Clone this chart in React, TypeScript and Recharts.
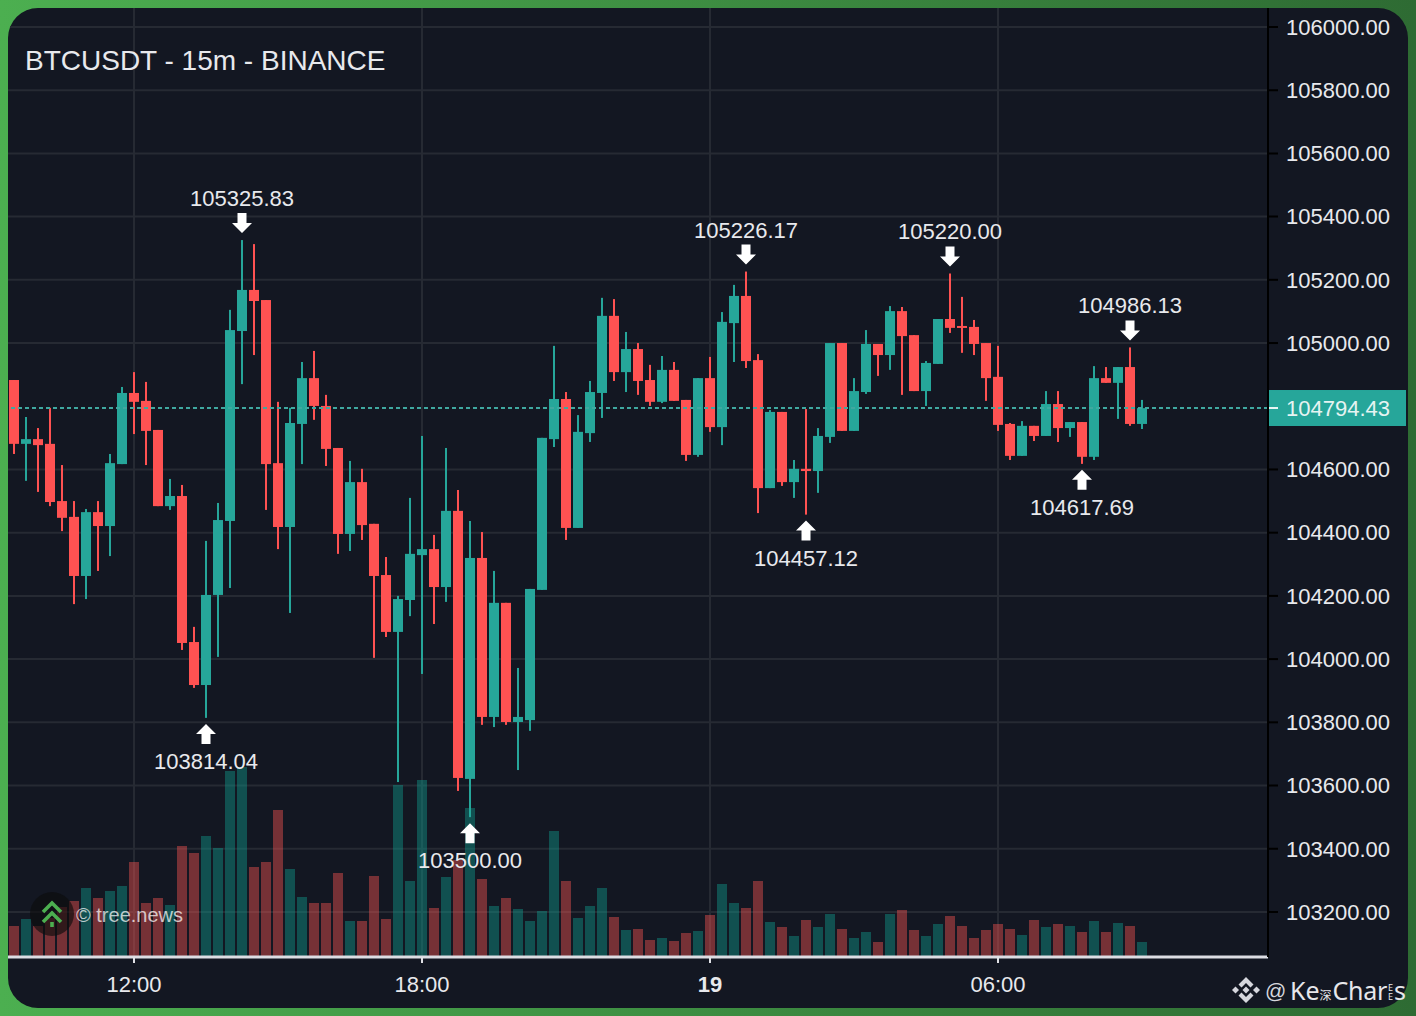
import { Bar, CartesianGrid, ComposedChart, ReferenceDot, ReferenceLine, XAxis, YAxis } from "recharts";

const opens = [104883, 104681, 104696, 104681, 104500, 104450, 104263, 104465, 104421, 104617, 104842, 104817, 104725, 104484, 104516, 104054, 103918, 104203, 104437, 105038, 105168, 105136, 104620, 104418, 104744, 104889, 104801, 104668, 104396, 104560, 104428, 104266, 104086, 104187, 104329, 104348, 104228, 104469, 103621, 104320, 103817, 104178, 103801, 103807, 104219, 104696, 104823, 104415, 104715, 104842, 105086, 104908, 104981, 104883, 104814, 104915, 104820, 104646, 104889, 104734, 105063, 105149, 104946, 104541, 104782, 104560, 104602, 104595, 104703, 105000, 104722, 104845, 104997, 104962, 105101, 105025, 104848, 104934, 105076, 105054, 105051, 105000, 104893, 104744, 104643, 104738, 104706, 104807, 104731, 104750, 104640, 104889, 104874, 104924, 104744];
const closes = [104681, 104696, 104677, 104497, 104447, 104263, 104465, 104421, 104620, 104842, 104814, 104722, 104484, 104516, 104051, 103918, 104203, 104440, 105041, 105168, 105133, 104617, 104418, 104747, 104889, 104801, 104665, 104396, 104560, 104424, 104263, 104086, 104190, 104333, 104348, 104228, 104469, 103624, 104320, 103817, 104178, 103801, 103817, 104222, 104700, 104823, 104415, 104719, 104845, 105086, 104908, 104981, 104880, 104814, 104915, 104817, 104646, 104889, 104734, 105067, 105149, 104943, 104541, 104782, 104560, 104602, 104595, 104706, 105000, 104722, 104848, 104997, 104962, 105101, 105022, 104848, 104937, 105076, 105048, 105048, 104997, 104889, 104741, 104643, 104738, 104706, 104807, 104731, 104750, 104640, 104889, 104874, 104924, 104744, 104794];
const highs = [104883, 104766, 104731, 104795, 104614, 104500, 104475, 104500, 104649, 104861, 104908, 104877, 104725, 104570, 104551, 104102, 104374, 104494, 105105, 105325.83, 105313, 105136, 104814, 104795, 104940, 104975, 104836, 104668, 104627, 104602, 104428, 104323, 104200, 104510, 104706, 104393, 104668, 104535, 104437, 104402, 104279, 104178, 103972, 104222, 104700, 104991, 104845, 104772, 104880, 105143, 105139, 105035, 105000, 104931, 104959, 104940, 104820, 104889, 104956, 105098, 105184, 105226.17, 104965, 104788, 104782, 104630, 104791, 104731, 105000, 105000, 104889, 105041, 104997, 105117, 105114, 105025, 104943, 105076, 105220, 105146, 105073, 105000, 104991, 104747, 104753, 104738, 104848, 104848, 104750, 104750, 104927, 104924, 104924, 104986.13, 104820];
const lows = [104649, 104564, 104529, 104484, 104405, 104174, 104190, 104279, 104326, 104617, 104712, 104614, 104484, 104472, 104029, 103909, 103814.04, 104007, 104225, 104870, 104962, 104472, 104348, 104146, 104617, 104757, 104611, 104333, 104342, 104377, 104004, 104070, 103611, 104136, 103953, 104111, 104181, 103583, 103500, 103792, 103785, 103792, 103649, 103773, 104219, 104671, 104377, 104415, 104687, 104763, 104880, 104845, 104836, 104801, 104810, 104817, 104627, 104640, 104719, 104677, 104940, 104921, 104462, 104541, 104548, 104510, 104457.12, 104526, 104684, 104722, 104722, 104839, 104896, 104915, 104836, 104848, 104801, 104934, 105032, 104969, 104962, 104817, 104722, 104630, 104643, 104690, 104706, 104687, 104703, 104617.69, 104630, 104874, 104760, 104738, 104728];
const volumes = [31, 38, 31, 39, 50, 56, 69, 59, 66, 71, 95, 54, 59, 52, 111, 104, 121, 109, 186, 190, 90, 95, 147, 88, 60, 54, 54, 84, 36, 36, 81, 38, 172, 76, 177, 49, 80, 97, 149, 78, 51, 59, 48, 36, 46, 126, 76, 39, 51, 69, 40, 27, 28, 17, 19, 16, 24, 26, 42, 73, 54, 49, 76, 35, 30, 21, 37, 30, 43, 28, 19, 25, 15, 43, 47, 27, 21, 33, 41, 31, 19, 27, 33, 28, 22, 37, 30, 33, 31, 25, 36, 25, 34, 31, 15];

// 09:30 on the 18th, 15m candles
const times = [
  "09:30", "09:45",
  ...Array.from({ length: 14 }, (_, h) => [0, 15, 30, 45].map((m) => `${String(h + 10).padStart(2, "0")}:${String(m).padStart(2, "0")}`)).flat(),
  "19", "00:15", "00:30", "00:45",
  ...Array.from({ length: 9 }, (_, h) => [0, 15, 30, 45].map((m) => `${String(h + 1).padStart(2, "0")}:${String(m).padStart(2, "0")}`)).flat(),
];
// the empty room right of the last candle
const emptySlots = ["e1", "e2", "e3", "e4", "e5", "e6", "e7", "e8", "e9", "e10"];

const timeTicks = ["12:00", "18:00", "19", "06:00"];
const priceTicks = [103200, 103400, 103600, 103800, 104000, 104200, 104400, 104600, 105000, 105200, 105400, 105600, 105800, 106000];
const lastPrice = 104794.43;

const highMarkers = [
  { time: "14:15", price: 105325.83 },
  { time: "00:45", price: 105226.17 },
  { time: "05:00", price: 105220.0 },
  { time: "08:45", price: 104986.13 },
];
const lowMarkers = [
  { time: "13:30", price: 103814.04 },
  { time: "19:00", price: 103500.0 },
  { time: "02:00", price: 104457.12 },
  { time: "07:45", price: 104617.69 },
];

const UP = "#26a69a";
const DOWN = "#ff5252";
const FONT = "'Liberation Sans', Arial, sans-serif";
const TEXT = "#e8e9ed";

const rows = [
  ...opens.map((open, i) => ({ time: times[i], open, close: closes[i], high: highs[i], low: lows[i], volume: volumes[i] })),
  ...emptySlots.map((time) => ({ time })),
];

function Candle(props: any) {
  const { x, y, width, height, payload } = props;
  if (payload.open == null || !height) return null;
  const perUnit = height / (payload.high - payload.low);
  const top = y + (payload.high - Math.max(payload.open, payload.close)) * perUnit;
  const bottom = y + (payload.high - Math.min(payload.open, payload.close)) * perUnit;
  const color = payload.close >= payload.open ? UP : DOWN;
  return (
    <g>
      <rect x={x + width / 2 - 1} y={y} width={2} height={height} fill={color} />
      <rect x={x} y={top} width={width} height={Math.max(bottom - top, 2)} fill={color} />
    </g>
  );
}

function VolumeBar(props: any) {
  const { x, y, width, height, payload } = props;
  if (payload.open == null) return null;
  const color = payload.close >= payload.open ? "rgba(16,150,138,0.45)" : "rgba(239,83,80,0.45)";
  return <rect x={x} y={y} width={width} height={height} fill={color} />;
}

function HighMarker(props: any) {
  const { cx, cy, text } = props;
  const t = cy - 7;
  return (
    <g>
      <path d={`M${cx} ${t} l-10 -10 h5.5 v-10 h9 v10 h5.5 z`} fill="#fff" />
      <text x={cx} y={cy - 34} textAnchor="middle" fontSize={22} fontFamily={FONT} fill={TEXT}>{text}</text>
    </g>
  );
}

function LowMarker(props: any) {
  const { cx, cy, text } = props;
  const t = cy + 6;
  return (
    <g>
      <path d={`M${cx} ${t} l10 10 h-5.5 v10 h-9 v-10 h-5.5 z`} fill="#fff" />
      <text x={cx} y={cy + 51} textAnchor="middle" fontSize={22} fontFamily={FONT} fill={TEXT}>{text}</text>
    </g>
  );
}

function TimeTick(props: any) {
  const { x, y, payload } = props;
  return (
    <text x={x} y={y} dy={27} textAnchor="middle" fontSize={22} fontFamily={FONT} fill={TEXT} fontWeight={payload.value === "19" ? 700 : 400}>
      {payload.value}
    </text>
  );
}

function PriceTag(props: any) {
  const { viewBox } = props;
  const right = viewBox.x + viewBox.width;
  const mid = viewBox.y;
  return (
    <g>
      <rect x={right} y={mid - 18} width={138} height={36} fill={UP} />
      <rect x={right} y={mid - 1} width={10} height={2} fill="#e8f5f3" />
      <text x={right + 18} y={mid + 8} fontSize={22} fontFamily={FONT} fill="#e6f4f2">{lastPrice.toFixed(2)}</text>
    </g>
  );
}

export default function App() {
  return (
    <div
      style={{
        position: "absolute",
        left: 0,
        top: 0,
        width: 1416,
        height: 1016,
        overflow: "hidden",
        background: "linear-gradient(90deg, #4caf50 0%, #2e6b33 100%)",
      }}
    >
      <div style={{ position: "absolute", left: 8, top: 8, width: 1400, height: 1000, borderRadius: 30, background: "#131722", overflow: "hidden" }}>
        <div style={{ position: "absolute", left: -8, top: -8 }}>
          <ComposedChart width={1416} height={1016} data={rows} margin={{ top: 8, right: 0, bottom: 0, left: 8 }}>
            <CartesianGrid xAxisId="time" yAxisId="price" stroke="#262a33" strokeWidth={2} syncWithTicks />
            <XAxis
              xAxisId="time"
              dataKey="time"
              allowDuplicatedCategory={false}
              ticks={timeTicks}
              interval={0}
              height={59}
              tick={TimeTick}
              tickSize={6}
              tickLine={{ stroke: "#e0e1e6", strokeWidth: 2 }}
              axisLine={{ stroke: "#dcdde3", strokeWidth: 3 }}
            />
            <XAxis xAxisId="volume" dataKey="time" allowDuplicatedCategory={false} hide />
            <YAxis
              yAxisId="price"
              orientation="right"
              width={148}
              type="number"
              domain={[103057.5, 106060]}
              ticks={priceTicks}
              interval={0}
              allowDataOverflow
              tickFormatter={(v: number) => v.toFixed(2)}
              tickSize={10}
              tickMargin={8}
              tick={{ fontSize: 22, fontFamily: FONT, fill: TEXT }}
              tickLine={{ stroke: "#000", strokeWidth: 2 }}
              axisLine={{ stroke: "#000", strokeWidth: 2 }}
            />
            <YAxis yAxisId="volume" hide type="number" domain={[0, 949]} />
            <Bar xAxisId="volume" yAxisId="volume" dataKey="volume" barSize={10} shape={VolumeBar} isAnimationActive={false} />
            <Bar
              xAxisId="time"
              yAxisId="price"
              dataKey={(d: any) => (d.open == null ? null : [d.low, d.high])}
              barSize={10}
              shape={Candle}
              isAnimationActive={false}
            />
            <ReferenceLine
              xAxisId="time"
              yAxisId="price"
              y={lastPrice}
              stroke="#3fa8a0"
              strokeWidth={2}
              strokeDasharray="4 3"
              label={PriceTag}
            />
            {highMarkers.map((m) => (
              <ReferenceDot
                key={m.time}
                xAxisId="time"
                yAxisId="price"
                x={m.time}
                y={m.price}
                ifOverflow="visible"
                shape={(p: any) => <HighMarker {...p} text={m.price.toFixed(2)} />}
              />
            ))}
            {lowMarkers.map((m) => (
              <ReferenceDot
                key={m.time}
                xAxisId="time"
                yAxisId="price"
                x={m.time}
                y={m.price}
                ifOverflow="visible"
                shape={(p: any) => <LowMarker {...p} text={m.price.toFixed(2)} />}
              />
            ))}
          </ComposedChart>
        </div>
      </div>
      <div style={{ position: "absolute", left: 25, top: 45, fontSize: 28, lineHeight: "32px", fontFamily: FONT, color: TEXT, whiteSpace: "nowrap" }}>
        BTCUSDT - 15m - BINANCE
      </div>
      <svg width={46} height={46} style={{ position: "absolute", left: 29, top: 891 }}>
        <circle cx={23} cy={23} r={22} fill="rgba(12,12,14,0.65)" />
        <path d="M14 21 L23 12 L32 21 M14 31 L23 22 L32 31" fill="none" stroke="#4caf50" strokeWidth={3.6} />
        <rect x={21.2} y={31} width={3.6} height={5} fill="#4caf50" />
      </svg>
      <div style={{ position: "absolute", left: 76, top: 904, fontSize: 20, lineHeight: "23px", fontFamily: FONT, color: "rgba(255,255,255,0.72)", whiteSpace: "nowrap" }}>
        © tree.news
      </div>
      <svg width={30} height={28} style={{ position: "absolute", left: 1231, top: 976 }}>
        <g fill="#d6d7dd">
          <path d="M1 14 l3.5 -3.5 l3.5 3.5 l-3.5 3.5 z" />
          <path d="M22 14 l3.5 -3.5 l3.5 3.5 l-3.5 3.5 z" />
          <path d="M11.5 14 l3.5 -3.5 l3.5 3.5 l-3.5 3.5 z" />
          <path d="M15 1 l7.5 7.5 l-3 3 l-4.5 -4.5 l-4.5 4.5 l-3 -3 z" />
          <path d="M15 27 l7.5 -7.5 l-3 -3 l-4.5 4.5 l-4.5 -4.5 l-3 3 z" />
        </g>
      </svg>
      <div style={{ position: "absolute", left: 1265, top: 979, fontSize: 21, lineHeight: "24px", fontFamily: FONT, color: "#d6d7dd" }}>@</div>
      <div style={{ position: "absolute", left: 1290, top: 973, fontSize: 25, lineHeight: "34px", fontFamily: "'Noto Sans', sans-serif", color: "#e6e7eb", whiteSpace: "nowrap" }}>
        Ke
        <span style={{ fontSize: 12, fontFamily: "'Noto Sans CJK SC'" }}>深</span>
        <span style={{ marginLeft: 1, letterSpacing: -0.3 }}>Char</span>
        <span style={{ display: "inline-block", width: 7, textAlign: "center", fontSize: 9, lineHeight: "9px" }}>E<br />E</span>
        s
      </div>
    </div>
  );
}
